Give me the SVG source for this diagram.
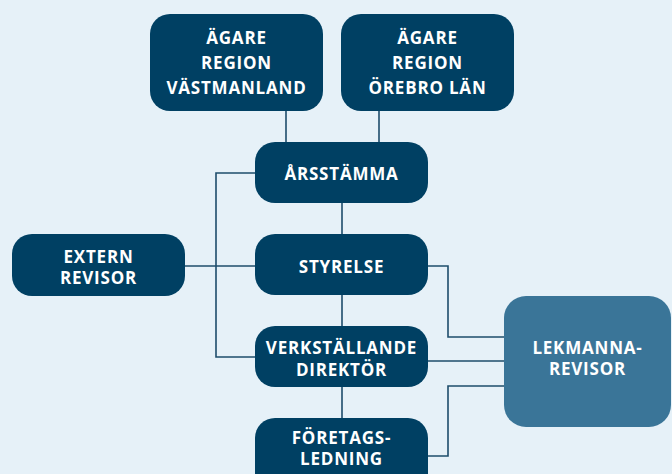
<svg xmlns="http://www.w3.org/2000/svg" width="672" height="474" viewBox="0 0 672 474">
<style>
.bg{fill:#e6f1f8}
.n{fill:#004063}
.l{fill:#3a7598}
.t{fill:#ffffff;font-family:"Open Sans","Noto Sans",sans-serif;font-weight:700;font-size:17px;letter-spacing:0.8px;text-anchor:middle}
.c{fill:none;stroke:#1e4d6b;stroke-width:1.6}
</style>
<rect class="bg" x="0" y="0" width="672" height="474"/>
<g id="connectors">
<path class="c" d="M286 111V142"/>
<path class="c" d="M379 111V142"/>
<path class="c" d="M342 203V234"/>
<path class="c" d="M342 295V326"/>
<path class="c" d="M342 387V418"/>
<path class="c" d="M255 173H216V357H255"/>
<path class="c" d="M185 266H255"/>
<path class="c" d="M428 266H448V337H504"/>
<path class="c" d="M428 361H504"/>
<path class="c" d="M428 456H448V386H504"/>
</g>
<g id="agare-vastmanland">
<rect class="n" x="150" y="14" width="173" height="97" rx="20"/>
<text class="t" x="236.5" y="44">ÄGARE</text>
<text class="t" x="236.5" y="69">REGION</text>
<text class="t" x="236.5" y="94">VÄSTMANLAND</text>
</g>
<g id="agare-orebro">
<rect class="n" x="341" y="14" width="173" height="97" rx="20"/>
<text class="t" x="427.5" y="44">ÄGARE</text>
<text class="t" x="427.5" y="69">REGION</text>
<text class="t" x="427.5" y="94">ÖREBRO LÄN</text>
</g>
<g id="arsstamma">
<rect class="n" x="255" y="142" width="173" height="61" rx="20"/>
<text class="t" x="341.5" y="180">ÅRSSTÄMMA</text>
</g>
<g id="styrelse">
<rect class="n" x="255" y="234" width="173" height="61" rx="20"/>
<text class="t" x="341.5" y="273">STYRELSE</text>
</g>
<g id="extern-revisor">
<rect class="n" x="12" y="234" width="173" height="62" rx="20"/>
<text class="t" x="98.5" y="263">EXTERN</text>
<text class="t" x="98.5" y="284">REVISOR</text>
</g>
<g id="vd">
<rect class="n" x="255" y="326" width="173" height="61" rx="20"/>
<text class="t" x="341.5" y="354">VERKSTÄLLANDE</text>
<text class="t" x="341.5" y="376">DIREKTÖR</text>
</g>
<g id="foretagsledning">
<rect class="n" x="255" y="418" width="173" height="80" rx="20"/>
<text class="t" x="341.5" y="444">FÖRETAGS-</text>
<text class="t" x="341.5" y="465">LEDNING</text>
</g>
<g id="lekmannarevisor">
<rect class="l" x="504" y="296" width="167" height="131" rx="22"/>
<text class="t" x="587.5" y="354">LEKMANNA-</text>
<text class="t" x="587.5" y="375">REVISOR</text>
</g>
</svg>
